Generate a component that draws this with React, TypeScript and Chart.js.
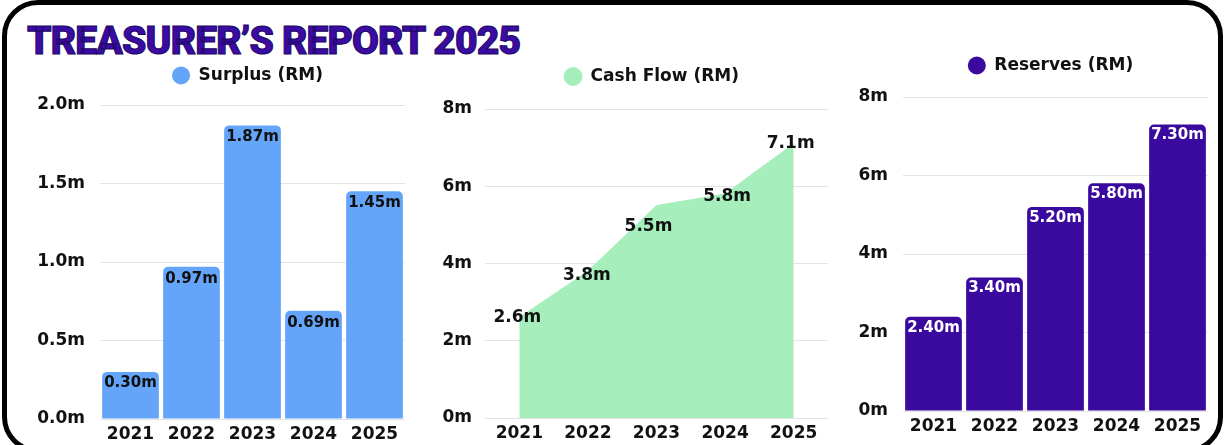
import React, { useEffect, useRef } from 'react';
import { Chart, registerables } from 'chart.js';

Chart.register(...registerables);

// ---------- data ----------
const years = ['2021', '2022', '2023', '2024', '2025'];
const surplus = [0.3, 0.97, 1.87, 0.69, 1.45];
const cashFlow = [2.6, 3.8, 5.5, 5.8, 7.1];
const reserves = [2.4, 3.4, 5.2, 5.8, 7.3];

const surplusLabel = 'Surplus (RM)';
const cashFlowLabel = 'Cash Flow (RM)';
const reservesLabel = 'Reserves (RM)';
const titleText = 'TREASURER’S REPORT 2025';

const surplusAxis = { min: 0, max: 2, step: 0.5, decimals: 1 };
const millionAxis = { min: 0, max: 8, step: 2, decimals: 0 };

// ---------- styles ----------
const FONT = "'DejaVu Sans', sans-serif";
const INK = '#111111';
const BLUE = '#64a5f9';
const GREEN = '#a6efbc';
const PURPLE = '#3a0a9e';
const GRID = '#e4e4e4';

Chart.defaults.font.family = FONT;
Chart.defaults.font.weight = 'bold';
Chart.defaults.color = INK;

// value labels drawn on each mark
function valueLabelPlugin(o: {
  decimals: number; color: string; size: number; dy: number[]; dx: number[];
}) {
  return {
    id: 'valueLabels',
    afterDatasetsDraw(chart: any) {
      const ctx = chart.ctx;
      const meta = chart.getDatasetMeta(0);
      const data = chart.data.datasets[0].data as number[];
      ctx.save();
      ctx.font = `bold ${o.size}px ${FONT}`;
      ctx.fillStyle = o.color;
      ctx.textAlign = 'center';
      ctx.textBaseline = 'middle';
      meta.data.forEach((el: any, i: number) => {
        const p = el.getProps(['x', 'y'], true);
        ctx.fillText(data[i].toFixed(o.decimals) + 'm', p.x + o.dx[i], p.y + o.dy[i]);
      });
      ctx.restore();
    },
  };
}

// extra space below legend + small horizontal shift of the legend
function legendTweak(gap: number, shift: number) {
  return {
    id: 'legendTweak',
    beforeInit(chart: any) {
      const legend = chart.legend;
      if (!legend) return;
      const fit = legend.fit;
      legend.fit = function () {
        fit.call(this);
        this.height += gap;
      };
    },
    afterLayout(chart: any) {
      const legend = chart.legend;
      if (!legend) return;
      legend.left += shift;
      legend.right += shift;
    },
  };
}

function legendOpts() {
  return {
    display: true,
    position: 'top' as const,
    fullSize: false,
    labels: {
      usePointStyle: true,
      pointStyle: 'circle',
      pointStyleWidth: 18,
      boxHeight: 12.75,
      padding: 10,
      color: INK,
      font: { size: 17, weight: 'bold' as const, family: FONT },
    },
  };
}

function yScale(ax: { min: number; max: number; step: number; decimals: number }, width: number, pad: number) {
  return {
    min: ax.min,
    max: ax.max,
    ticks: {
      stepSize: ax.step,
      padding: pad,
      color: INK,
      font: { size: 17, weight: 'bold' as const, family: FONT },
      callback: (v: any) => Number(v).toFixed(ax.decimals) + 'm',
    },
    grid: { color: GRID, lineWidth: 1, drawTicks: false },
    border: { display: false },
    afterFit: (s: any) => {
      s.width = width;
    },
  };
}

function xScale(offset: boolean) {
  return {
    offset,
    ticks: {
      padding: 5,
      color: INK,
      font: { size: 17, weight: 'bold' as const, family: FONT },
    },
    grid: { display: false, drawTicks: false },
    border: { display: false },
    afterFit: (s: any) => {
      s.height = 28;
    },
  };
}

export default function App() {
  const c1 = useRef<HTMLCanvasElement>(null);
  const c2 = useRef<HTMLCanvasElement>(null);
  const c3 = useRef<HTMLCanvasElement>(null);

  useEffect(() => {
    const charts: Chart[] = [];

    charts.push(
      new Chart(c1.current as HTMLCanvasElement, {
        type: 'bar',
        data: {
          labels: years,
          datasets: [
            {
              label: surplusLabel,
              data: surplus,
              backgroundColor: BLUE,
              borderRadius: 5,
              barPercentage: 0.93,
              categoryPercentage: 1,
            },
          ],
        },
        options: {
          responsive: false,
          animation: false,
          layout: { padding: { left: 0, right: 15, top: 17, bottom: 3 } },
          plugins: { legend: legendOpts() as any, tooltip: { enabled: false } },
          scales: { x: xScale(true) as any, y: yScale(surplusAxis, 100, 15) as any },
        },
        plugins: [
          legendTweak(11, -5),
          valueLabelPlugin({ decimals: 2, color: INK, size: 15, dy: [11, 12, 12, 12, 12], dx: [0, 0, 0, 0, 0] }),
        ],
      })
    );

    charts.push(
      new Chart(c2.current as HTMLCanvasElement, {
        type: 'line',
        data: {
          labels: years,
          datasets: [
            {
              label: cashFlowLabel,
              data: cashFlow,
              backgroundColor: GREEN,
              borderColor: GREEN,
              borderWidth: 1,
              fill: 'origin',
              pointRadius: 0,
              tension: 0,
            },
          ],
        },
        options: {
          responsive: false,
          animation: false,
          layout: { padding: { left: 0, right: 12, top: 18, bottom: 4 } },
          plugins: { legend: legendOpts() as any, tooltip: { enabled: false } },
          scales: { x: xScale(true) as any, y: yScale(millionAxis, 65, 13) as any },
        },
        plugins: [
          legendTweak(14, -5),
          valueLabelPlugin({ decimals: 1, color: INK, size: 17, dy: [0, 4, 21, 3, 0], dx: [-2, -1, -8, 2, -3] }),
        ],
      })
    );

    charts.push(
      new Chart(c3.current as HTMLCanvasElement, {
        type: 'bar',
        data: {
          labels: years,
          datasets: [
            {
              label: reservesLabel,
              data: reserves,
              backgroundColor: PURPLE,
              borderRadius: 5,
              barPercentage: 0.93,
              categoryPercentage: 1,
            },
          ],
        },
        options: {
          responsive: false,
          animation: false,
          layout: { padding: { left: 0, right: 17, top: 7, bottom: 11 } },
          plugins: { legend: legendOpts() as any, tooltip: { enabled: false } },
          scales: { x: xScale(true) as any, y: yScale(millionAxis, 63, 15) as any },
        },
        plugins: [
          legendTweak(13, -5),
          valueLabelPlugin({ decimals: 2, color: '#ffffff', size: 15, dy: [11, 11, 11, 11, 11], dx: [0, 0, 0, 0, 0] }),
        ],
      })
    );

    return () => charts.forEach((c) => c.destroy());
  }, []);

  const canvasStyle = (left: number): React.CSSProperties => ({
    position: 'absolute',
    left,
    top: 40,
    display: 'block',
  });

  return (
    <div
      style={{
        position: 'absolute',
        left: 0,
        top: 0,
        width: 1225,
        height: 445,
        overflow: 'hidden',
        background: '#ffffff',
      }}
    >
      <div
        style={{
          position: 'absolute',
          left: 2,
          top: 0,
          width: 1221,
          height: 453,
          boxSizing: 'border-box',
          border: '5px solid #000',
          borderRadius: 36,
        }}
      />
      <div
        style={{
          position: 'absolute',
          left: 27,
          top: 22,
          fontFamily: 'Roboto, sans-serif',
          fontWeight: 900,
          fontSize: 39,
          lineHeight: '39px',
          letterSpacing: '-0.85px',
          color: '#3a0ca3',
          WebkitTextStroke: '1px #1c0660',
          whiteSpace: 'nowrap',
        }}
      >
        {titleText}
      </div>
      <canvas ref={c1} width={420} height={410} style={canvasStyle(0)} />
      <canvas ref={c2} width={420} height={410} style={canvasStyle(420)} />
      <canvas ref={c3} width={385} height={410} style={canvasStyle(840)} />
    </div>
  );
}
